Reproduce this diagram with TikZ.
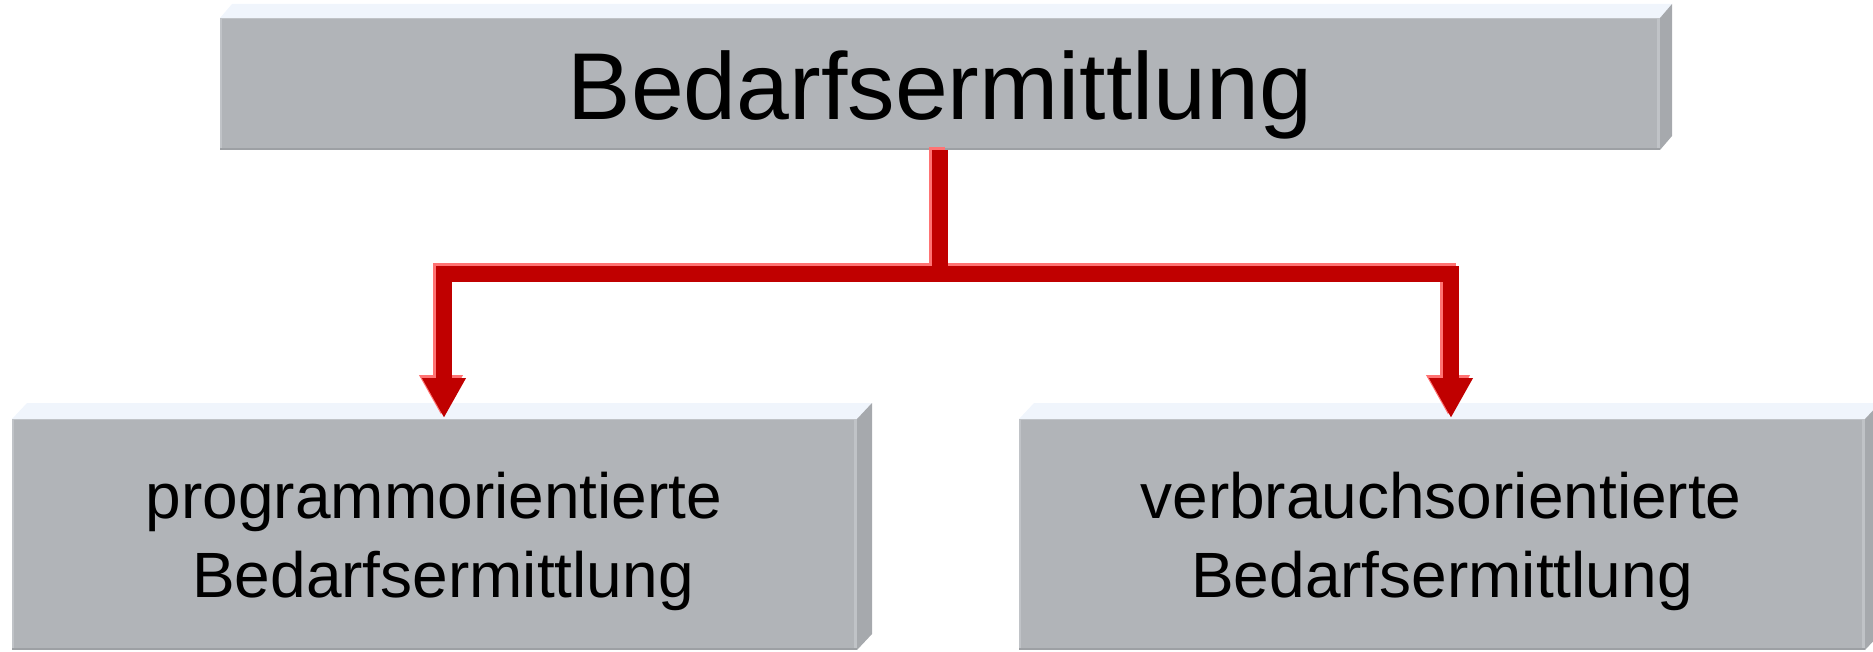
\documentclass[tikz,border=0pt]{standalone}
\usepackage{fontspec}
\setmainfont{Liberation Sans}
\usetikzlibrary{calc,arrows.meta}

\definecolor{facefront}{HTML}{B1B4B8}
\definecolor{facetop}{HTML}{F0F5FC}
\definecolor{faceside}{HTML}{A6A9AD}
\definecolor{edgedark}{HTML}{9DA0A4}
\definecolor{edgelight}{HTML}{C0C3C7}
\definecolor{linkred}{HTML}{C00000}
\definecolor{linkglow}{HTML}{FF7373}

\tikzset{
  panel/.style={fill=facefront, inner sep=0pt, outer sep=0pt, anchor=north west},
  toplabel/.style={font=\fontsize{95}{114}\selectfont, anchor=base, inner sep=0pt},
  sublabel/.style={font=\fontsize{64}{77}\selectfont, anchor=base, inner sep=0pt},
  link/.style={draw=linkred, line width=15.5pt, line join=miter},
  linkedge/.style={draw=linkglow, line width=15.5pt, line join=miter,
                   transform canvas={xshift=-3pt, yshift=3pt}},
  tip/.style={-{Triangle[width=41pt,length=40pt]}},
}

% lit top face, shaded side face and edge lines of a raised box
\newcommand\boxfaces[3]{%
  \fill[facetop] (#1.north west) -- ++(#2,-#3) -- ($(#1.north east)+(#2,-#3)$)
                 -- (#1.north east) -- cycle;
  \fill[faceside] (#1.north east) -- ++(#2,-#3) -- ($(#1.south east)+(#2,-#3)$)
                  -- (#1.south east) -- cycle;
  \draw[edgelight, line width=3pt] ([xshift=-1.5pt]#1.north east) -- ([xshift=-1.5pt]#1.south east);
  \draw[edgelight, line width=1.5pt] ([xshift=0.75pt]#1.north west) -- ([xshift=0.75pt]#1.south west);
  \draw[edgedark, line width=2pt] ([yshift=1pt]#1.south west) -- ([yshift=1pt]#1.south east);
  \draw[edgelight, line width=1pt] ([yshift=-0.5pt]#1.north west) -- ([yshift=-0.5pt]#1.north east);
}

\begin{document}
\begin{tikzpicture}[x=1pt, y=-1pt]
\useasboundingbox (0,0) rectangle (1873,652);
\clip (0,0) rectangle (1873,652);

% boxes
\node[panel, minimum width=1440pt, minimum height=132pt] (top) at (220,18) {};
\boxfaces{top}{12}{14}
\node[panel, minimum width=845pt, minimum height=231pt] (left) at (12,419) {};
\boxfaces{left}{15}{16}
\node[panel, minimum width=846pt, minimum height=231pt] (right) at (1019,419) {};
\boxfaces{right}{15}{16}

% connectors
\coordinate (hub) at (940,274);
\draw[linkedge, tip] (top.south) -- (hub) -| ([xshift=9.5pt,yshift=1pt]left.north);
\draw[linkedge, tip] (top.south) -- (hub) -| ([xshift=9pt,yshift=1pt]right.north);
\draw[link, tip] (top.south) -- (hub) -| ([xshift=9.5pt,yshift=1pt]left.north);
\draw[link, tip] (top.south) -- (hub) -| ([xshift=9pt,yshift=1pt]right.north);

% labels
\node[toplabel] (title) at (940,120) {Bedarfsermittlung};
\node[sublabel] (leftA) at (434,518) {programmorientierte};
\node[sublabel] (leftB) at (443,597) {Bedarfsermittlung};
\node[sublabel] (rightA) at (1441,518) {verbrauchsorientierte};
\node[sublabel] (rightB) at (1442,597) {Bedarfsermittlung};
\end{tikzpicture}
\end{document}
